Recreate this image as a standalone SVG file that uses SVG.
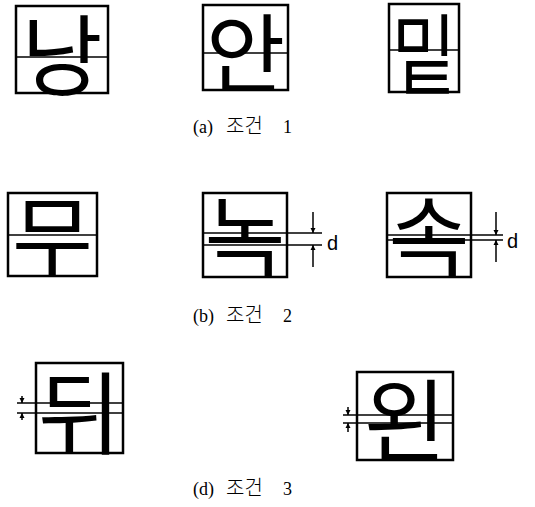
<svg xmlns="http://www.w3.org/2000/svg" width="535" height="507" viewBox="0 0 535 507">
<defs>
<style>
.box{fill:none;stroke:#000;stroke-width:2.5}
.ln{stroke:#000;stroke-width:1.5;fill:none}
.glyph{font-family:"Liberation Sans","Noto Sans CJK KR",sans-serif;font-weight:400;fill:#000;text-anchor:middle}
.cap{font-family:"Liberation Serif","Noto Sans CJK KR",serif;font-size:18px;fill:#000}
.ko{font-family:"Noto Sans CJK KR",sans-serif;font-size:20px;font-weight:300}
.dl{font-family:"Liberation Sans",sans-serif;font-size:20px;fill:#000}
</style>
<marker id="ah" viewBox="0 0 10 10" refX="10" refY="5" markerWidth="5" markerHeight="6" orient="auto" markerUnits="userSpaceOnUse">
<path d="M0,0 L10,5 L0,10 z" fill="#000"/>
</marker>
</defs>
<rect width="535" height="507" fill="#fff"/>

<g id="a1">
<rect class="box" x="16" y="6" width="92" height="87"/>
<line class="ln" x1="16" y1="57" x2="108" y2="57"/>
<text class="glyph" x="62" y="88" font-size="88">낭</text>
</g>
<g id="a2">
<rect class="box" x="203" y="5" width="85" height="85"/>
<line class="ln" x1="203" y1="53" x2="288" y2="53"/>
<text class="glyph" x="245.5" y="86" font-size="86">안</text>
</g>
<g id="a3">
<rect class="box" x="389" y="4" width="70" height="88"/>
<line class="ln" x1="389" y1="50" x2="459" y2="50"/>
<text class="glyph" x="424" y="87" font-size="88" transform="translate(424 0) scale(0.8 1) translate(-424 0)">밑</text>
</g>

<g id="b1">
<rect class="box" x="8" y="193" width="89" height="83"/>
<line class="ln" x1="8" y1="235" x2="97" y2="235"/>
<text class="glyph" x="52.5" y="269" font-size="88">무</text>
</g>
<g id="b2">
<rect class="box" x="203" y="193" width="84" height="84"/>
<line class="ln" x1="203" y1="233" x2="322" y2="233"/>
<line class="ln" x1="203" y1="245" x2="322" y2="245"/>
<text class="glyph" x="245" y="270" font-size="88">녹</text>
<text class="dl" x="327" y="250">d</text>
</g>
<g id="b3">
<rect class="box" x="387" y="193" width="84" height="84"/>
<line class="ln" x1="387" y1="235" x2="503" y2="235"/>
<line class="ln" x1="387" y1="240" x2="503" y2="240"/>
<text class="glyph" x="429" y="270" font-size="88">속</text>
<text class="dl" x="507" y="248">d</text>
</g>

<g id="d1">
<rect class="box" x="36" y="363" width="87" height="90"/>
<line class="ln" x1="17" y1="403" x2="123" y2="403"/>
<line class="ln" x1="17" y1="413" x2="123" y2="413"/>
<text class="glyph" x="79.5" y="447" font-size="90">뒤</text>
</g>
<g id="d2">
<rect class="box" x="357" y="372" width="96" height="88"/>
<line class="ln" x1="343" y1="415" x2="453" y2="415"/>
<line class="ln" x1="343" y1="423" x2="453" y2="423"/>
<text class="glyph" x="405" y="454" font-size="90">왼</text>
</g>

<g id="connectors">
<line class="ln" x1="313" y1="212" x2="313" y2="233" marker-end="url(#ah)"/>
<line class="ln" x1="313" y1="267" x2="313" y2="245" marker-end="url(#ah)"/>
<line class="ln" x1="496" y1="212" x2="496" y2="235" marker-end="url(#ah)"/>
<line class="ln" x1="496" y1="262" x2="496" y2="240" marker-end="url(#ah)"/>
<line class="ln" x1="22" y1="396" x2="22" y2="403" marker-end="url(#ah)"/>
<line class="ln" x1="22" y1="420" x2="22" y2="413" marker-end="url(#ah)"/>
<line class="ln" x1="348" y1="407" x2="348" y2="415" marker-end="url(#ah)"/>
<line class="ln" x1="348" y1="432" x2="348" y2="423" marker-end="url(#ah)"/>
</g>

<g id="captions">
<text class="cap" y="133"><tspan x="193">(a)</tspan><tspan class="ko" x="226">조건</tspan><tspan x="283">1</tspan></text>
<text class="cap" y="322"><tspan x="193">(b)</tspan><tspan class="ko" x="226">조건</tspan><tspan x="283">2</tspan></text>
<text class="cap" y="495"><tspan x="193">(d)</tspan><tspan class="ko" x="226">조건</tspan><tspan x="283">3</tspan></text>
</g>
</svg>
